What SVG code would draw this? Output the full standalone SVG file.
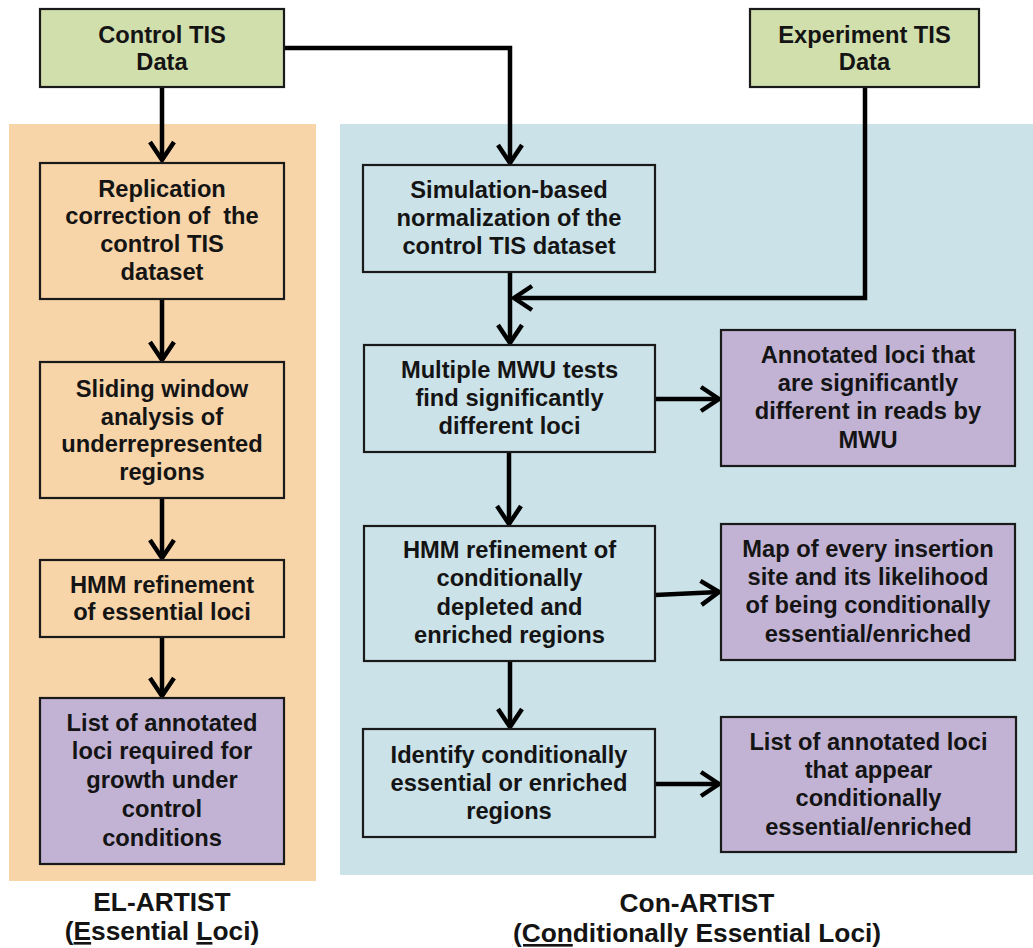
<svg xmlns="http://www.w3.org/2000/svg" width="1033" height="948" viewBox="0 0 1033 948">
<style>
text{font-family:"Liberation Sans",Arial,sans-serif;font-weight:bold;font-size:23.7px;fill:#141414;text-anchor:middle;white-space:pre}
.lbl{font-size:26.3px}
.box{stroke:#1a1a1a;stroke-width:2.2}
.green{fill:#d1dfad}
.orange{fill:#f8d4a9}
.blue{fill:#cbe2e8}
.purple{fill:#c2b3d5}
.conn{fill:none;stroke:#000;stroke-width:4.5;marker-end:url(#arr)}
</style>
<defs>
<marker id="arr" markerUnits="userSpaceOnUse" viewBox="-25 -16 28 32" refX="0" refY="0" markerWidth="28" markerHeight="32" orient="auto" overflow="visible">
<path d="M-18,-12 L0,0 L-18,12" fill="none" stroke="#000" stroke-width="4.5" stroke-linejoin="miter" stroke-linecap="butt"/>
</marker>
</defs>
<rect width="1033" height="948" fill="#fff"/>
<g id="bg-el">
<rect x="9" y="124" width="307" height="757" class="orange"/>
</g>
<g id="bg-con">
<rect x="340" y="124" width="693" height="751" class="blue"/>
</g>
<g id="connectors">
<path class="conn" d="M162,87 V160"/>
<path class="conn" d="M284,48 H510 V163"/>
<path class="conn" d="M865,87 V298 H514"/>
<path class="conn" d="M510,272 V343"/>
<path class="conn" d="M162,299 V360"/>
<path class="conn" d="M162,498 V558"/>
<path class="conn" d="M162,637 V696"/>
<path class="conn" d="M655,399 H719"/>
<path class="conn" d="M509,452 V524"/>
<path class="conn" d="M655,595 L719,592"/>
<path class="conn" d="M510,661 V727"/>
<path class="conn" d="M655,784 H719"/>
</g>
<g id="control-data">
<rect x="40" y="9" width="244" height="78" class="box green"/>
<text x="162" y="43">Control TIS</text>
<text x="162" y="70">Data</text>
</g>
<g id="experiment-data">
<rect x="750" y="9" width="229" height="78" class="box green"/>
<text x="864.5" y="43">Experiment TIS</text>
<text x="864.5" y="70">Data</text>
</g>
<g id="replication">
<rect x="40" y="163" width="244" height="136" class="box orange"/>
<text x="162" y="197">Replication</text>
<text x="162" y="224">correction of  the</text>
<text x="162" y="252">control TIS</text>
<text x="162" y="280">dataset</text>
</g>
<g id="sliding">
<rect x="40" y="362" width="244" height="136" class="box orange"/>
<text x="162" y="397">Sliding window</text>
<text x="162" y="425">analysis of</text>
<text x="162" y="452">underrepresented</text>
<text x="162" y="480">regions</text>
</g>
<g id="hmm-essential">
<rect x="40" y="560" width="244" height="77" class="box orange"/>
<text x="162" y="593">HMM refinement</text>
<text x="162" y="620">of essential loci</text>
</g>
<g id="list-essential">
<rect x="40" y="698" width="244" height="166" class="box purple"/>
<text x="162" y="731">List of annotated</text>
<text x="162" y="759">loci required for</text>
<text x="162" y="788">growth under</text>
<text x="162" y="817">control</text>
<text x="162" y="846">conditions</text>
</g>
<g id="simulation">
<rect x="363" y="165" width="292" height="107" class="box blue"/>
<text x="509" y="198">Simulation-based</text>
<text x="509" y="226">normalization of the</text>
<text x="509" y="254">control TIS dataset</text>
</g>
<g id="mwu">
<rect x="364" y="345" width="291" height="107" class="box blue"/>
<text x="509.5" y="378">Multiple MWU tests</text>
<text x="509.5" y="406">find significantly</text>
<text x="509.5" y="434">different loci</text>
</g>
<g id="annotated-mwu">
<rect x="721" y="330" width="294" height="136" class="box purple"/>
<text x="868" y="363">Annotated loci that</text>
<text x="868" y="391">are significantly</text>
<text x="868" y="419">different in reads by</text>
<text x="868" y="448">MWU</text>
</g>
<g id="hmm-conditional">
<rect x="364" y="526" width="291" height="135" class="box blue"/>
<text x="509.5" y="558">HMM refinement of</text>
<text x="509.5" y="586">conditionally</text>
<text x="509.5" y="615">depleted and</text>
<text x="509.5" y="643">enriched regions</text>
</g>
<g id="map">
<rect x="721" y="524" width="294" height="136" class="box purple"/>
<text x="868" y="557">Map of every insertion</text>
<text x="868" y="585">site and its likelihood</text>
<text x="868" y="613">of being conditionally</text>
<text x="868" y="642">essential/enriched</text>
</g>
<g id="identify">
<rect x="363" y="729" width="292" height="108" class="box blue"/>
<text x="509" y="763">Identify conditionally</text>
<text x="509" y="791">essential or enriched</text>
<text x="509" y="819">regions</text>
</g>
<g id="list-conditional">
<rect x="721" y="717" width="295" height="135" class="box purple"/>
<text x="868.5" y="750">List of annotated loci</text>
<text x="868.5" y="778">that appear</text>
<text x="868.5" y="806">conditionally</text>
<text x="868.5" y="835">essential/enriched</text>
</g>
<g id="label-el">
<text class="lbl" x="162" y="911">EL-ARTIST</text>
<text class="lbl" x="162" y="940">(<tspan text-decoration="underline">E</tspan>ssential <tspan text-decoration="underline">L</tspan>oci)</text>
</g>
<g id="label-con">
<text class="lbl" x="697" y="912">Con-ARTIST</text>
<text class="lbl" x="697" y="942"><tspan text-decoration="underline">(Con</tspan>ditionally Essential Loci)</text>
</g>
</svg>
